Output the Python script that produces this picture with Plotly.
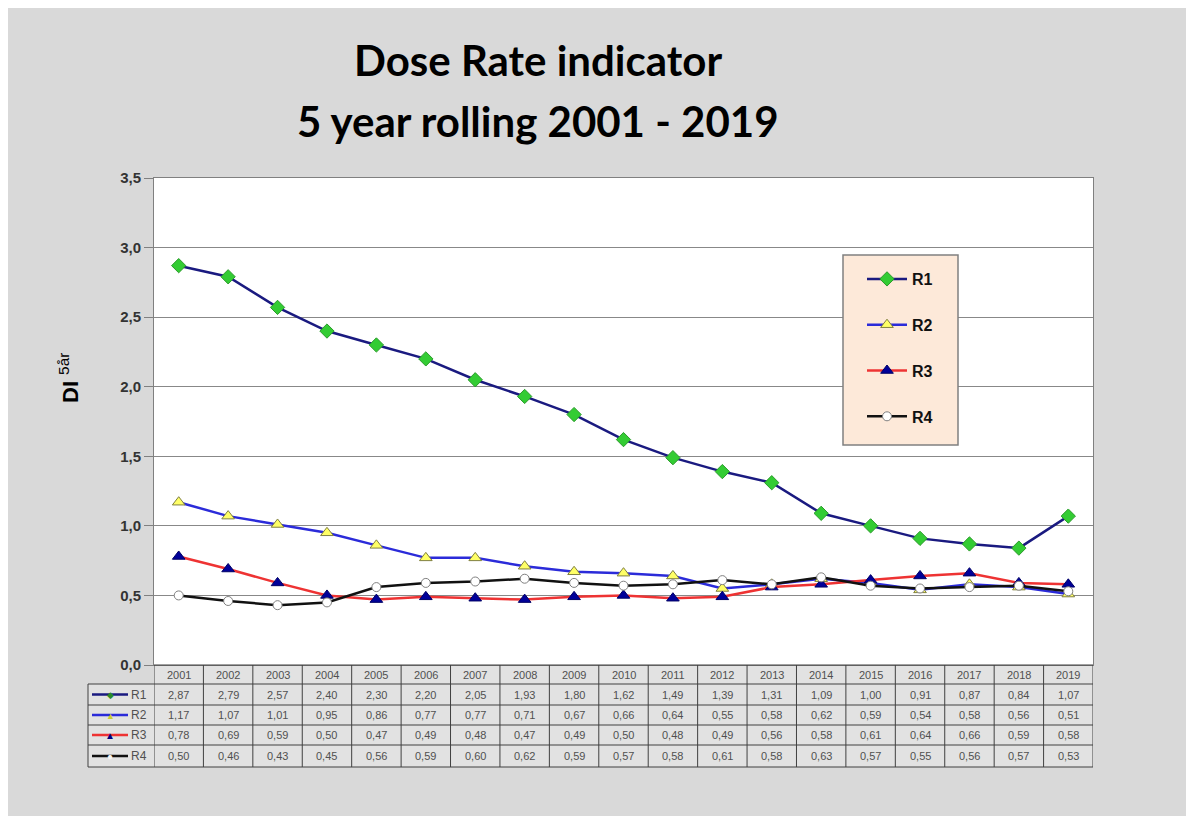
import plotly.graph_objects as go

years = [str(y) for y in range(2001, 2020)]
r1 = [2.87, 2.79, 2.57, 2.40, 2.30, 2.20, 2.05, 1.93, 1.80, 1.62, 1.49, 1.39, 1.31, 1.09, 1.00, 0.91, 0.87, 0.84, 1.07]
r2 = [1.17, 1.07, 1.01, 0.95, 0.86, 0.77, 0.77, 0.71, 0.67, 0.66, 0.64, 0.55, 0.58, 0.62, 0.59, 0.54, 0.58, 0.56, 0.51]
r3 = [0.78, 0.69, 0.59, 0.50, 0.47, 0.49, 0.48, 0.47, 0.49, 0.50, 0.48, 0.49, 0.56, 0.58, 0.61, 0.64, 0.66, 0.59, 0.58]
r4 = [0.50, 0.46, 0.43, 0.45, 0.56, 0.59, 0.60, 0.62, 0.59, 0.57, 0.58, 0.61, 0.58, 0.63, 0.57, 0.55, 0.56, 0.57, 0.53]
series_names = ['R1', 'R2', 'R3', 'R4']
series_values = [r1, r2, r3, r4]

W, H = 1194, 816
# page body has an 8px margin, so screen positions are figure positions + 8
L, T = 146, 170
PW, PH = 939, 487
R, B = W - L - PW, H - T - PH


def px(x):
    # screen x -> paper
    return (x - 8 - L) / PW


def py(y):
    # screen y -> paper
    return (T + PH + 8 - y) / PH


styles = [
    dict(line=dict(color='#1a1a80', width=2.5),
         marker=dict(symbol='diamond', size=11, color='#33cc33', line=dict(color='#2a9a2a', width=1))),
    dict(line=dict(color='#2b2bd9', width=2.5),
         marker=dict(symbol='triangle-up', size=11, color='#ffff66', line=dict(color='#808040', width=1))),
    dict(line=dict(color='#ee3333', width=2.5),
         marker=dict(symbol='triangle-up', size=11, color='#000099', line=dict(color='#000066', width=1))),
    dict(line=dict(color='#111111', width=2.5),
         marker=dict(symbol='circle', size=9, color='white', line=dict(color='#808080', width=1))),
]

fig = go.Figure()
for i, (name, vals) in enumerate(zip(series_names, series_values)):
    fig.add_trace(go.Scatter(
        x=years, y=vals, name=name, mode='lines+markers',
        legendgroup=name, **styles[i]
    ))

shapes = []
annotations = []

# legend box
shapes.append(dict(type='rect', xref='paper', yref='paper', x0=px(843), x1=px(958), y0=py(445), y1=py(255),
                   fillcolor='#fde9d9', line=dict(color='#808080', width=1.5), layer='above'))

# data table under the plot
row_edges = [665, 684, 705, 725, 745, 767]
tbl_left = 88
border = dict(color='#404040', width=1)
shapes.append(dict(type='rect', xref='paper', yref='paper', x0=px(tbl_left), x1=1, y0=py(row_edges[-1]),
                   y1=py(row_edges[1]), fillcolor='#e2e2e2', line=dict(width=0), layer='below'))
shapes.append(dict(type='rect', xref='paper', yref='paper', x0=0, x1=1, y0=py(row_edges[1]),
                   y1=0, fillcolor='#e2e2e2', line=dict(width=0), layer='below'))
for k, ye in enumerate(row_edges):
    x0 = 0 if k == 0 else px(tbl_left)
    shapes.append(dict(type='line', xref='paper', yref='paper', x0=x0, x1=1, y0=py(ye), y1=py(ye), line=border))
for i in range(len(years) + 1):
    shapes.append(dict(type='line', xref='x', yref='paper', x0=i - 0.5, x1=i - 0.5,
                       y0=py(row_edges[-1]), y1=0, line=border))
shapes.append(dict(type='line', xref='paper', yref='paper', x0=px(tbl_left), x1=px(tbl_left),
                   y0=py(row_edges[-1]), y1=py(row_edges[1]), line=border))

cell_font = dict(family='Arial', size=11, color='#505050')
for j, yr in enumerate(years):
    annotations.append(dict(x=j, y=py((row_edges[0] + row_edges[1]) / 2), xref='x', yref='paper',
                            text=yr, showarrow=False, font=cell_font, xanchor='center', yanchor='middle'))
key_marks = [('◆', '#2a8a2a', 9), ('▲', '#cccc33', 9), ('▲', '#000080', 10), ('●', '#f4f4f4', 10)]
for k, (name, vals) in enumerate(zip(series_names, series_values)):
    yc = py((row_edges[k + 1] + row_edges[k + 2]) / 2)
    for j, v in enumerate(vals):
        annotations.append(dict(x=j, y=yc, xref='x', yref='paper', text=f'{v:.2f}'.replace('.', ','),
                                showarrow=False, font=cell_font, xanchor='center', yanchor='middle'))
    shapes.append(dict(type='line', xref='paper', yref='paper', x0=px(92), x1=px(128), y0=yc, y1=yc,
                       line=dict(color=styles[k]['line']['color'], width=2.5)))
    sym, col, sz = key_marks[k]
    annotations.append(dict(x=px(110), y=yc, xref='paper', yref='paper', text=sym, showarrow=False,
                            font=dict(size=sz, color=col), xanchor='center', yanchor='middle'))
    annotations.append(dict(x=px(129), y=yc, xref='paper', yref='paper', text=name, showarrow=False,
                            xanchor='left', yanchor='middle',
                            font=dict(family='Arial', size=12, color='#505050')))

# title lines
title_font = dict(family='Lato', size=42, color='black')
annotations.append(dict(x=px(538), y=py(60), xref='paper', yref='paper', text='<b>Dose Rate indicator</b>',
                        showarrow=False, font=title_font, xanchor='center', yanchor='middle'))
annotations.append(dict(x=px(538), y=py(121), xref='paper', yref='paper',
                        text='<b>5 year rolling 2001 - 2019</b>', showarrow=False, font=title_font,
                        xanchor='center', yanchor='middle'))

# y axis title
annotations.append(dict(x=px(69), y=py(378), xref='paper', yref='paper', text='<b>DI</b> <sup>5år</sup>',
                        textangle=-90, showarrow=False, xanchor='center', yanchor='middle',
                        font=dict(family='Arial', size=22, color='black')))

fig.update_layout(
    width=W, height=H,
    margin=dict(l=L, r=R, t=T, b=B),
    paper_bgcolor='#d9d9d9',
    plot_bgcolor='white',
    separators=', ',
    showlegend=True,
    legend=dict(
        x=px(862), y=py(262), xanchor='left', yanchor='top',
        bgcolor='rgba(0,0,0,0)', borderwidth=0,
        font=dict(family='Arial', size=16, color='#111111', weight='bold'),
        tracegroupgap=22, itemwidth=40,
    ),
    shapes=shapes,
    annotations=annotations,
    xaxis=dict(
        type='category', range=[-0.5, len(years) - 0.5], showticklabels=False,
        showgrid=False, showline=True, linecolor='#808080', mirror=True, ticks='',
    ),
    yaxis=dict(
        range=[0, 3.5], dtick=0.5, tickformat='.1f', showgrid=True, gridcolor='#888888',
        showline=True, linecolor='#808080', mirror=True, ticks='outside', ticklen=9,
        tickcolor='#808080', zeroline=False,
        tickfont=dict(family='Arial', size=15, color='#333333', weight='bold'),
    ),
)

fig.write_html("out.html")
